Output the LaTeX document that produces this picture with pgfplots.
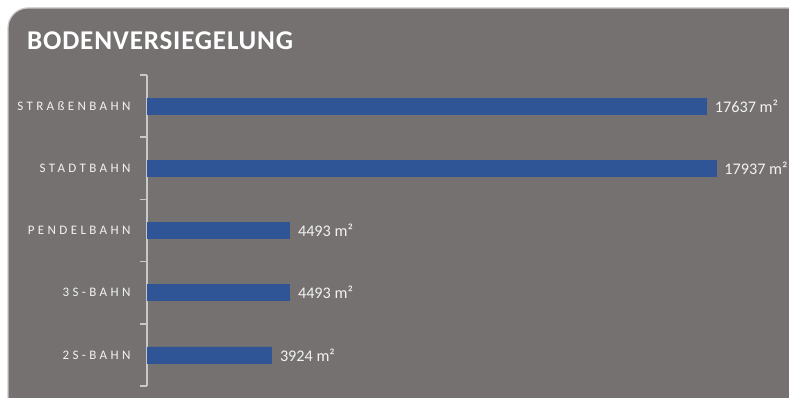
\documentclass[border=0pt]{standalone}
\usepackage{fontspec}
\setmainfont{Carlito}
\newfontfamily\spaced[LetterSpace=26]{Carlito}
\newfontfamily\titlefont[LetterSpace=3]{Carlito}
\usepackage{pgfplots}
\pgfplotsset{compat=1.18}
\definecolor{bg}{RGB}{117,113,112}
\definecolor{barblue}{RGB}{47,85,151}
\definecolor{axisgray}{RGB}{200,200,200}
\definecolor{txt}{RGB}{242,242,242}
\begin{document}
\begin{tikzpicture}[x=1pt,y=1pt]
\useasboundingbox (0,0) rectangle (789,398);
\clip (0,0) rectangle (789,398);
\fill[white] (0,0) rectangle (789,398);
\draw[fill=bg, draw=axisgray, line width=1.2pt, rounded corners=20pt] (8,-30) rectangle (830,390);
\node[anchor=base west, text=white, inner sep=0pt] at (27,348) {\titlefont\fontsize{27.1}{31}\selectfont\bfseries BODENVERSIEGELUNG};
\begin{axis}[
  at={(147pt,12pt)}, anchor=south west,
  scale only axis, width=642pt, height=311pt,
  xbar, bar width=16pt,
  xmin=0, xmax=20240,
  ymin=-0.5, ymax=4.5,
  axis x line=none,
  axis y line=left,
  axis line style={-, draw=axisgray, line width=1.5pt},
  ytick={0,1,2,3,4},
  yticklabels={2S-BAHN,3S-BAHN,PENDELBAHN,STADTBAHN,STRAßENBAHN},
  major tick length=0pt,
  minor ytick={-0.5,0.5,1.5,2.5,3.5,4.5},
  minor tick length=7pt,
  tick align=outside,
  minor tick style={draw=axisgray, line width=1.5pt},
  yticklabel style={font=\spaced\fontsize{13}{15}\selectfont, text=txt, xshift=-13pt},
  /pgf/number format/assume math mode=true,
  nodes near coords={\pgfmathprintnumber[fixed,precision=0,1000 sep={}]{\pgfplotspointmeta}~m²},
  nodes near coords align=horizontal,
  every node near coord/.append style={font=\fontsize{16.2}{18}\selectfont, text=txt, anchor=west, xshift=5pt},
]
\addplot[fill=barblue, draw=barblue, line width=0.4pt] coordinates {
  (3924,0) (4493,1) (4493,2) (17937,3) (17637,4)
};
\end{axis}
\end{tikzpicture}
\end{document}
